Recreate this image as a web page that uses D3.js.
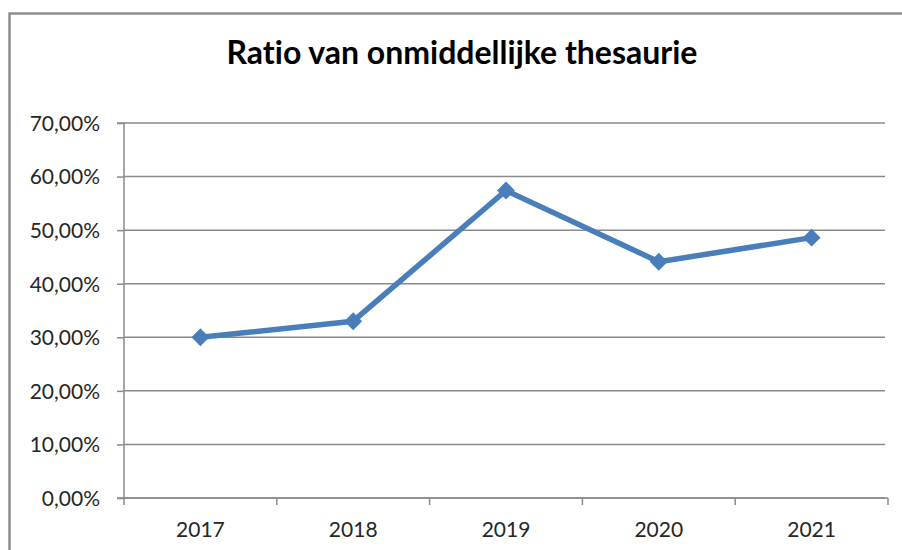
<!DOCTYPE html>
<html>
<head>
<meta charset="utf-8">
<script src="https://cdn.jsdelivr.net/npm/d3@7"></script>
<style>
  body { margin: 0; background: #fff; }
  svg { display: block; }
  text { font-variant-ligatures: none; font-feature-settings: "liga" 0; }
</style>
</head>
<body>
<div id="chart"></div>
<script>
// data
var years = ["2017", "2018", "2019", "2020", "2021"];
var ratios = [0.300, 0.330, 0.574, 0.441, 0.486];
var yTicks = [0, 0.1, 0.2, 0.3, 0.4, 0.5, 0.6, 0.7];
var title = "Ratio van onmiddellijke thesaurie";

var width = 902, height = 550;
var plot = { left: 124, right: 888, top: 123, bottom: 498 };

var svg = d3.select("#chart")
    .append("svg")
    .attr("width", width)
    .attr("height", height);

svg.append("rect")
    .attr("width", width)
    .attr("height", height)
    .attr("fill", "#fff");

// outer chart-area border, runs off the right and bottom edge
svg.append("rect")
    .attr("x", 9.5)
    .attr("y", 13.5)
    .attr("width", 1000)
    .attr("height", 600)
    .attr("fill", "none")
    .attr("stroke", "#8e8e8e")
    .attr("stroke-width", 2.5);

svg.append("text")
    .attr("x", 462)
    .attr("y", 64)
    .attr("text-anchor", "middle")
    .style("font-family", "Lato, 'Open Sans', sans-serif")
    .style("font-weight", "bold")
    .style("font-size", "32px")
    .attr("fill", "#000")
    .text(title);

var x = d3.scaleBand()
    .domain(years)
    .range([plot.left, plot.right]);

var y = d3.scaleLinear()
    .domain([0, 0.7])
    .range([plot.bottom, plot.top]);

var fmt = function (d) { return d3.format(".2f")(d * 100).replace(".", ",") + "%"; };

// gridlines
svg.append("g")
    .selectAll("line")
    .data(yTicks)
    .enter().append("line")
    .attr("x1", plot.left)
    .attr("x2", 885)
    .attr("y1", function (d) { return y(d); })
    .attr("y2", function (d) { return y(d); })
    .attr("stroke", "#8a8a8a")
    .attr("stroke-width", 1.5);

// y axis
var yAxis = svg.append("g")
    .attr("transform", "translate(" + plot.left + ",0)")
    .call(d3.axisLeft(y).tickValues(yTicks).tickFormat(fmt).tickSize(7).tickPadding(17));

// x axis, ticks between categories
var xAxis = svg.append("g")
    .attr("transform", "translate(0," + plot.bottom + ")")
    .call(d3.axisBottom(x).tickSize(0).tickPadding(24));

xAxis.selectAll(".tickmark")
    .data([plot.left].concat(years.map(function (d) { return x(d) + x.bandwidth(); })))
    .enter().append("line")
    .attr("class", "tickmark")
    .attr("x1", function (d) { return d; })
    .attr("x2", function (d) { return d; })
    .attr("y1", 0)
    .attr("y2", 7);

[yAxis, xAxis].forEach(function (g) {
    g.selectAll("path.domain").attr("stroke", "#8a8a8a").attr("stroke-width", 1.5);
    g.selectAll("line").attr("stroke", "#8a8a8a").attr("stroke-width", 1.5);
    g.selectAll("text")
        .attr("fill", "#262626")
        .style("font-family", "Lato, 'Open Sans', sans-serif")
        .style("font-size", "21px");
});
yAxis.select("path.domain").attr("d", "M-7," + plot.top + "H0V" + plot.bottom + "H-7");
yAxis.selectAll("text").attr("dy", "0.35em");
xAxis.select("path.domain").attr("d", "M" + plot.left + ",0H" + plot.right);

// series line
var cx = function (d, i) { return x(years[i]) + x.bandwidth() / 2; };
var line = d3.line()
    .x(cx)
    .y(function (d) { return y(d); });

svg.append("path")
    .datum(ratios)
    .attr("d", line)
    .attr("fill", "none")
    .attr("stroke", "#4a7ebb")
    .attr("stroke-width", 5.5)
    .attr("stroke-linejoin", "round");

svg.append("g")
    .selectAll("path")
    .data(ratios)
    .enter().append("path")
    .attr("d", d3.symbol(d3.symbolSquare, 160))
    .attr("transform", function (d, i) {
        return "translate(" + cx(d, i) + "," + y(d) + ") rotate(45)";
    })
    .attr("fill", "#4a7ebb");
</script>
</body>
</html>
